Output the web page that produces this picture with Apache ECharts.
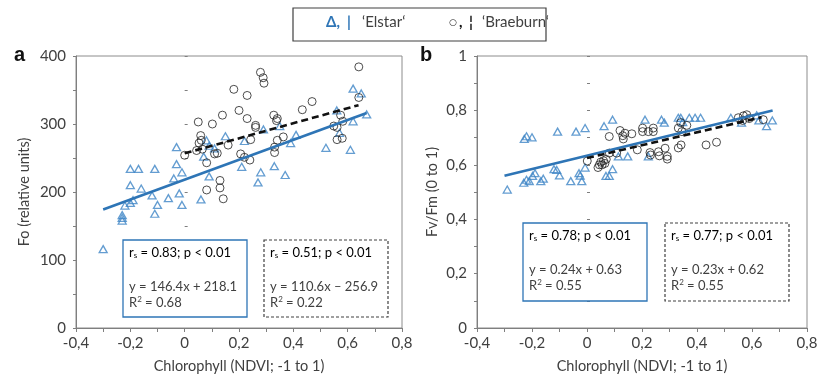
<!DOCTYPE html>
<html>
<head>
<meta charset="utf-8">
<script src="https://cdn.jsdelivr.net/npm/echarts@6/dist/echarts.min.js"></script>
<style>
html,body{margin:0;padding:0;background:#fff;}
#chart{width:825px;height:382px;}
</style>
</head>
<body>
<div id="chart"></div>
<script>
// ---------- data ----------
const xTickLabels = ['-0,4', '-0,2', '0', '0,2', '0,4', '0,6', '0,8'];
const yTickLabelsA = ['0', '100', '200', '300', '400'];
const yTickLabelsB = ['0', '0,2', '0,4', '0,6', '0,8', '1'];

// Panel a: Fo vs NDVI
const elstarFo = [
  [-0.30,116],[-0.23,158],[-0.23,162],[-0.23,166],[-0.22,180],[-0.20,184],[-0.19,188],[-0.20,210],
  [-0.20,234],[-0.17,234],[-0.16,205],[-0.11,234],[-0.12,195],[-0.10,181],[-0.11,168],[-0.06,191],
  [-0.03,266],[-0.03,241],[-0.01,229],[-0.04,220],[-0.02,198],[-0.01,181],[0.06,189],[0.09,223],
  [0.07,252],[0.08,276],[0.11,264],[0.09,268],[0.15,282],[0.21,237],[0.22,275],[0.28,229],
  [0.27,214],[0.29,292],[0.33,238],[0.35,297],[0.37,225],[0.39,272],[0.41,284],[0.52,265],
  [0.56,320],[0.57,287],[0.61,262],[0.62,352],[0.62,304],[0.65,345],[0.67,314]
];
const braeburnFo = [
  [0.00,254],[0.044,261],[0.053,272],[0.059,283],[0.061,276],[0.065,263],[0.05,303],[0.081,243],
  [0.11,256],[0.12,257],[0.102,300],[0.139,313],[0.16,269],[0.181,351],[0.20,320],[0.23,342],
  [0.23,308],[0.206,256],[0.22,251],[0.24,247],[0.243,277],[0.261,298],[0.261,295],[0.279,376],
  [0.289,368],[0.292,360],[0.328,313],[0.341,308],[0.338,305],[0.331,266],[0.331,258],[0.341,276],
  [0.363,281],[0.433,321],[0.469,333],[0.549,297],[0.561,295],[0.574,313],[0.58,279],[0.561,277],
  [0.582,304],[0.641,339],[0.641,384],[0.13,217],[0.13,206],[0.142,190],[0.081,203]
];
const elstarFoFit = [[-0.30,174.2],[0.67,316.2]];
const braeburnFoFit = [[0.00,256.9],[0.64,327.7]];

// Panel b: Fv/Fm vs NDVI
const elstarFvFm = [
  [-0.29,0.509],[-0.23,0.534],[-0.22,0.545],[-0.21,0.54],[-0.228,0.695],[-0.22,0.705],[-0.20,0.701],
  [-0.198,0.559],[-0.189,0.569],[-0.168,0.54],[-0.159,0.549],[-0.12,0.584],[-0.11,0.581],[-0.10,0.561],
  [-0.107,0.722],[-0.059,0.54],[-0.04,0.722],[-0.007,0.735],[-0.029,0.569],[-0.025,0.56],[-0.019,0.54],
  [-0.007,0.59],[0.062,0.742],[0.093,0.766],[0.069,0.559],[0.081,0.559],[0.093,0.584],[0.114,0.631],
  [0.148,0.631],[0.211,0.766],[0.223,0.631],[0.271,0.766],[0.281,0.755],[0.332,0.773],[0.341,0.773],
  [0.348,0.757],[0.372,0.773],[0.393,0.773],[0.413,0.773],[0.523,0.773],[0.562,0.755],[0.617,0.782],
  [0.625,0.763],[0.653,0.742],[0.674,0.763]
];
const braeburnFvFm = [
  [0.001,0.614],[0.04,0.59],[0.045,0.60],[0.05,0.61],[0.055,0.60],[0.06,0.615],[0.065,0.605],
  [0.07,0.62],[0.081,0.643],[0.108,0.643],[0.081,0.704],[0.12,0.726],[0.132,0.695],[0.13,0.707],
  [0.138,0.716],[0.163,0.714],[0.183,0.655],[0.202,0.735],[0.202,0.722],[0.223,0.722],[0.241,0.735],
  [0.241,0.722],[0.229,0.645],[0.231,0.636],[0.26,0.648],[0.263,0.633],[0.284,0.661],[0.292,0.631],
  [0.292,0.621],[0.332,0.662],[0.342,0.673],[0.332,0.735],[0.341,0.755],[0.363,0.745],[0.345,0.722],
  [0.433,0.673],[0.471,0.683],[0.55,0.773],[0.569,0.78],[0.581,0.784],[0.59,0.770],[0.566,0.763],
  [0.641,0.766]
];
const elstarFvFmFit = [[-0.30,0.56],[0.675,0.80]];
const braeburnFvFmFit = [[0.00,0.625],[0.635,0.775]];

// ---------- styling ----------
const FONT = 'Lato, "Open Sans", sans-serif';
const BLUE = '#2E75B6';
const TRI = '#3D85C6';
const TXT = '#404040';
const AXIS = '#7f7f7f';

function xFmt(v) {
  const i = Math.round((v + 0.4) * 10);
  return (i % 2 === 0) ? (xTickLabels[i / 2] || '') : '';
}
function yFmtA(v) {
  const i = Math.round(v / 50);
  return (i % 2 === 0) ? (yTickLabelsA[i / 2] || '') : '';
}
function yFmtB(v) {
  const i = Math.round(v * 10);
  return (i % 2 === 0) ? (yTickLabelsB[i / 2] || '') : '';
}

function xAxisDef(gi) {
  return {
    type: 'value', gridIndex: gi, min: -0.4, max: 0.8, interval: 0.1,
    name: 'Chlorophyll (NDVI; -1 to 1)', nameLocation: 'middle', nameGap: 31,
    nameTextStyle: { fontFamily: FONT, fontSize: 14.5, color: TXT },
    axisLine: { show: true, onZero: false, lineStyle: { color: AXIS, width: 1 } },
    axisTick: { show: true, length: 4, lineStyle: { color: AXIS } },
    axisLabel: { formatter: xFmt, fontFamily: FONT, fontSize: 15, color: TXT, margin: 8, showMinLabel: true, showMaxLabel: true },
    splitLine: { show: false }
  };
}
function yAxisDef(gi, max, interval, fmt, name, gap) {
  return {
    type: 'value', gridIndex: gi, min: 0, max: max, interval: interval,
    name: name, nameLocation: 'middle', nameGap: gap,
    nameTextStyle: { fontFamily: FONT, fontSize: 14.5, color: TXT },
    axisLine: { show: true, onZero: false, lineStyle: { color: AXIS, width: 1 } },
    axisTick: { show: true, length: 3, lineStyle: { color: AXIS } },
    axisLabel: { formatter: fmt, fontFamily: FONT, fontSize: 15, color: TXT, margin: 10, showMinLabel: true, showMaxLabel: true },
    splitLine: { show: false }
  };
}
function yInside(gi, max, interval) {
  return {
    type: 'value', gridIndex: gi, min: 0, max: max, interval: interval, position: 'left',
    axisLine: { show: false }, axisLabel: { show: false }, splitLine: { show: false },
    axisTick: { show: true, inside: true, length: 3, lineStyle: { color: AXIS } }
  };
}

function scatterTri(data, xi, yi) {
  return { type: 'scatter', xAxisIndex: xi, yAxisIndex: yi, data: data, symbol: 'triangle', symbolSize: [8, 7],
    itemStyle: { color: 'rgba(255,255,255,0)', borderColor: TRI, borderWidth: 1.3 }, z: 3 };
}
function scatterCirc(data, xi, yi) {
  return { type: 'scatter', xAxisIndex: xi, yAxisIndex: yi, data: data, symbol: 'circle', symbolSize: 8,
    itemStyle: { color: 'rgba(255,255,255,0)', borderColor: '#222', borderWidth: 1 }, z: 3 };
}
function fitLine(data, xi, yi, color, dashed) {
  return { type: 'line', xAxisIndex: xi, yAxisIndex: yi, data: data, showSymbol: false, symbol: 'none',
    lineStyle: { color: color, width: 2.6, type: dashed ? [7, 4] : 'solid' }, z: 4 };
}

// text boxes
function statBox(x, y, w, h, solid, rs, eq, r2) {
  const richBase = { fontFamily: FONT, fontSize: 13, color: TXT };
  return [
    { type: 'rect', shape: { x: x, y: y, width: w, height: h },
      style: { fill: '#fff', stroke: solid ? BLUE : '#404040', lineWidth: solid ? 1.3 : 1.2, lineDash: solid ? null : [3, 2] }, z: 10 },
    { type: 'text', x: x + 6, y: y + 6, z: 11,
      style: { text: '{a|r}{s|s}{a| = ' + rs + '}', rich: { a: richBase, s: { fontFamily: FONT, fontSize: 8, color: TXT, verticalAlign: 'bottom' } } } },
    { type: 'text', x: x + 6, y: y + 39, z: 11,
      style: { text: 'y = ' + eq + '\n{a|R}{p|2}{a| = ' + r2 + '}', fontFamily: FONT, fontSize: 13, fill: TXT, lineHeight: 16,
        rich: { a: { fontFamily: FONT, fontSize: 13, color: TXT, lineHeight: 16 }, p: { fontFamily: FONT, fontSize: 8, color: TXT, verticalAlign: 'top', lineHeight: 16 } } } }
  ];
}

const graphics = [].concat(
  statBox(123, 240, 124, 77, true, '0.83; p < 0.01', '146.4x + 218.1', '0.68'),
  statBox(264, 240, 124, 77, false, '0.51; p < 0.01', '110.6x \u2013 256.9', '0.22'),
  statBox(523, 223, 124, 78, true, '0.78; p < 0.01', '0.24x + 0.63', '0.55'),
  statBox(665, 223, 124, 78, false, '0.77; p < 0.01', '0.23x + 0.62', '0.55'),
  [
    { type: 'text', x: 14, y: 45, style: { text: 'a', fontFamily: 'Liberation Sans, Arial, sans-serif', fontSize: 20, fontWeight: 'bold', fill: '#111' } },
    { type: 'text', x: 420, y: 45, style: { text: 'b', fontFamily: 'Liberation Sans, Arial, sans-serif', fontSize: 20, fontWeight: 'bold', fill: '#111' } },
    { type: 'rect', shape: { x: 293, y: 8, width: 253, height: 33 }, style: { fill: '#fff', stroke: '#404040', lineWidth: 1.2 } },
    { type: 'text', x: 326, y: 15, style: { text: '\u0394,', fontFamily: FONT, fontSize: 15, fontWeight: 'bold', fill: BLUE } },
    { type: 'text', x: 347, y: 15, style: { text: '|', fontFamily: FONT, fontSize: 15, fontWeight: 'bold', fill: BLUE } },
    { type: 'text', x: 362, y: 15, style: { text: '\u2018Elstar\u2018', fontFamily: FONT, fontSize: 15, fill: TXT } },
    { type: 'text', x: 449, y: 18, style: { text: '\u25CB', fontFamily: 'DejaVu Sans, sans-serif', fontSize: 9, fill: '#222' } },
    { type: 'text', x: 459, y: 15, style: { text: ',', fontFamily: FONT, fontSize: 15, fontWeight: 'bold', fill: '#111' } },
    { type: 'text', x: 469, y: 15, style: { text: '\u00A6', fontFamily: FONT, fontSize: 15, fontWeight: 'bold', fill: '#111' } },
    { type: 'text', x: 482, y: 15, style: { text: '\u2018Braeburn\u2018', fontFamily: FONT, fontSize: 15, fill: TXT } }
  ]
);

const chart = echarts.init(document.getElementById('chart'), null, { renderer: 'canvas' });
chart.setOption({
  animation: false,
  backgroundColor: '#fff',
  grid: [
    { left: 76, top: 56, width: 326, height: 272, show: true, borderColor: '#8c8c8c', borderWidth: 1, backgroundColor: 'transparent' },
    { left: 477, top: 56, width: 330, height: 272, show: true, borderColor: '#8c8c8c', borderWidth: 1, backgroundColor: 'transparent' }
  ],
  xAxis: [xAxisDef(0), xAxisDef(1)],
  yAxis: [
    yAxisDef(0, 400, 50, yFmtA, 'Fo (relative units)', 44),
    yAxisDef(1, 1, 0.1, yFmtB, 'Fv/Fm (0 to 1)', 37),
    yInside(0, 400, 50),
    yInside(1, 1, 0.1)
  ],
  series: [
    scatterTri(elstarFo, 0, 0),
    scatterCirc(braeburnFo, 0, 0),
    fitLine(elstarFoFit, 0, 0, BLUE, false),
    fitLine(braeburnFoFit, 0, 0, '#111', true),
    scatterTri(elstarFvFm, 1, 1),
    scatterCirc(braeburnFvFm, 1, 1),
    fitLine(elstarFvFmFit, 1, 1, BLUE, false),
    fitLine(braeburnFvFmFit, 1, 1, '#111', true)
  ],
  graphic: graphics
});
</script>
</body>
</html>
